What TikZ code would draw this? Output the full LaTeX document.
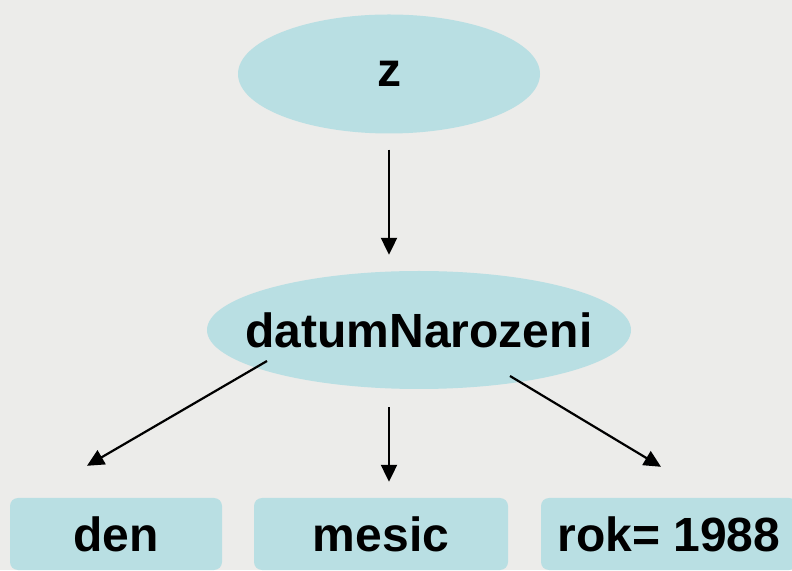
\documentclass[tikz,border=0pt]{standalone}
\usepackage{fontspec}
\setmainfont{Liberation Sans}
\usetikzlibrary{arrows.meta,shapes.geometric}
\definecolor{nodefill}{RGB}{185,223,227}
\definecolor{paper}{RGB}{236,236,234}

\begin{document}
\begin{tikzpicture}[x=1pt,y=1pt,
  oval/.style={ellipse,fill=nodefill,inner sep=0pt,font=\fontsize{48}{58}\selectfont\bfseries},
  field/.style={rectangle,rounded corners=8pt,fill=nodefill,inner sep=0pt,minimum height=72pt,text height=35pt,text depth=0pt,font=\fontsize{48}{58}\selectfont\bfseries},
  link/.style={->,>={Triangle[length=17pt,width=16pt]},line width=2.2pt}]
\useasboundingbox (0,0) rectangle (792,570);
\clip (0,0) rectangle (792,570);
\fill[paper] (0,0) rectangle (792,570);

\node[oval,minimum width=302pt,minimum height=119pt] (z) at (389,496) {z};

\node[oval,minimum width=424pt,minimum height=118pt] (datum) at (419,240) {\makebox[0pt]{datumNarozeni}};

\node[field,minimum width=212pt] (den) at (116,36) {den};

\node[field,minimum width=254pt] (mesic) at (381,36) {mesic};

\node[field,minimum width=256pt] (rok) at (669,36) {rok= 1988};

\draw[link,shorten <=16pt,shorten >=16pt] (z.south) -- (z.south |- datum.north);

\draw[link,shorten <=18pt,shorten >=16pt] (z |- datum.south) -- (z |- mesic.north);

\draw[link] ([shift={(-152,-31)}]datum.center) -- ([shift={(-29,32)}]den.north);

\draw[link] ([shift={(91,-46)}]datum.center) -- ([shift={(-8,31)}]rok.north);
\end{tikzpicture}
\end{document}
